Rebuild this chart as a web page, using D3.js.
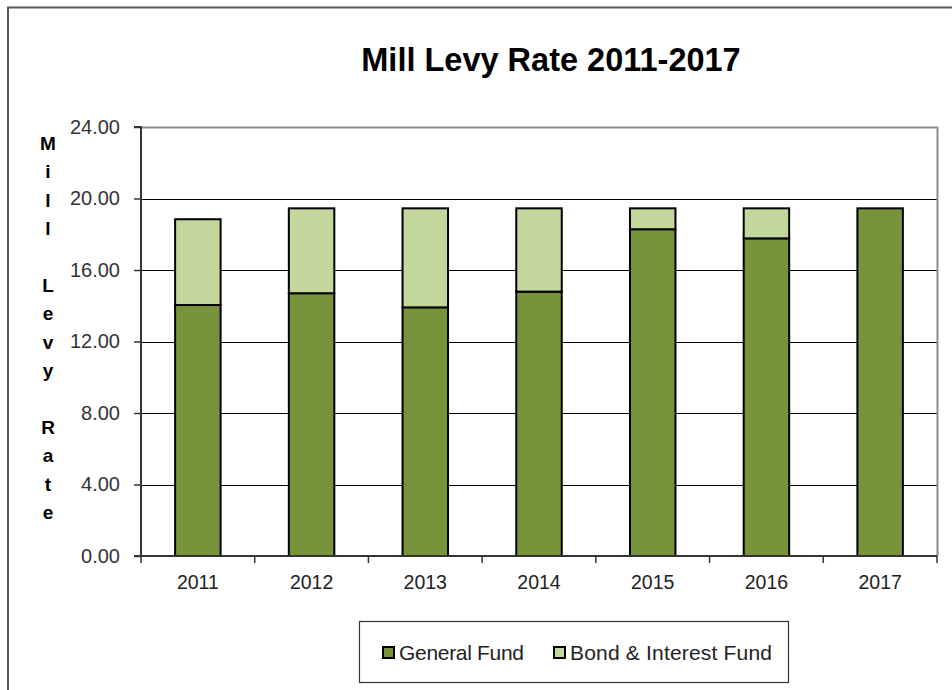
<!DOCTYPE html>
<html>
<head>
<meta charset="utf-8">
<script src="https://cdn.jsdelivr.net/npm/d3@7"></script>
<style>
  html, body { margin: 0; padding: 0; background: #fff; }
  svg { display: block; font-family: "Liberation Sans", Arial, sans-serif; }
</style>
</head>
<body>
<svg id="chart" width="952" height="690"></svg>
<script>
// Mill levy by fiscal year, split into the two funds
const years = ["2011", "2012", "2013", "2014", "2015", "2016", "2017"];
const generalFund = [14.04, 14.70, 13.91, 14.79, 18.28, 17.77, 19.45];
const bondInterestFund = [4.80, 4.75, 5.54, 4.66, 1.17, 1.68, 0.00];
const seriesNames = ["General Fund", "Bond & Interest Fund"];
const seriesColors = ["#77933C", "#C3D69B"];
const yTicks = [0, 4, 8, 12, 16, 20, 24];
const axisTitle = ["M", "i", "l", "l", "", "L", "e", "v", "y", "", "R", "a", "t", "e"];

const svg = d3.select("#chart");
const margin = { left: 141, right: 937, top: 127, bottom: 556 };

// outer chart frame
svg.append("rect")
  .attr("x", 8).attr("y", 7.5)
  .attr("width", 1000).attr("height", 1000)
  .attr("fill", "none").attr("stroke", "#595959").attr("stroke-width", 2);

// title
svg.append("text")
  .attr("x", 551).attr("y", 71)
  .attr("text-anchor", "middle")
  .attr("font-size", 32.5).attr("font-weight", "bold")
  .attr("fill", "#000")
  .text("Mill Levy Rate 2011-2017");

const x = d3.scaleBand().domain(years)
  .range([margin.left, margin.right]).paddingInner(0.6).paddingOuter(0.3);
const band = d3.scaleBand().domain(years).range([margin.left, margin.right]);
const y = d3.scaleLinear().domain([0, 24]).range([margin.bottom, margin.top]);

// gridlines
svg.append("g").selectAll("line").data(yTicks.filter(t => t > 0))
  .join("line")
  .attr("x1", margin.left).attr("x2", margin.right)
  .attr("y1", d => Math.round(y(d)) + 0.5).attr("y2", d => Math.round(y(d)) + 0.5)
  .attr("stroke", "#000").attr("stroke-width", 1);

// plot area frame (top and right)
svg.append("path")
  .attr("d", `M${margin.left},${margin.top + 0.5}H${margin.right + 0.5}V${margin.bottom}`)
  .attr("fill", "none").attr("stroke", "#8c8c8c").attr("stroke-width", 2);

// stacked bars
const rows = years.map((yr, i) => ({ year: yr, "General Fund": generalFund[i], "Bond & Interest Fund": bondInterestFund[i] }));
const stacked = d3.stack().keys(seriesNames)(rows);

svg.append("g").selectAll("g").data(stacked).join("g")
  .attr("fill", (d, i) => seriesColors[i])
  .selectAll("rect").data(d => d.filter(p => p[1] - p[0] > 0))
  .join("rect")
  .attr("x", d => x(d.data.year))
  .attr("width", x.bandwidth())
  .attr("y", d => y(d[1]))
  .attr("height", d => y(d[0]) - y(d[1]))
  .attr("stroke", "#000").attr("stroke-width", 2);

// y axis
const yAxis = d3.axisLeft(y).tickValues(yTicks).tickFormat(d3.format(".2f")).tickSize(7).tickPadding(14);
const gy = svg.append("g").attr("transform", `translate(${margin.left},0)`).call(yAxis);
gy.select(".domain").attr("stroke", "#333").attr("stroke-width", 2).attr("d", `M-7,${margin.top}H0V${margin.bottom}H-7`);
gy.selectAll(".tick line").attr("stroke", "#333").attr("stroke-width", 1.5);
gy.selectAll(".tick text").attr("font-size", 20).attr("fill", "#333")
  .attr("font-family", "'Liberation Sans', Arial, sans-serif");

// x axis
const gx = svg.append("g").attr("transform", `translate(0,${margin.bottom})`);
gx.append("line").attr("x1", margin.left - 7).attr("x2", margin.right)
  .attr("stroke", "#333").attr("stroke-width", 2);
gx.selectAll("line.tk").data(years.concat(["end"]))
  .join("line").attr("class", "tk")
  .attr("x1", (d, i) => i < years.length ? band(d) : margin.right)
  .attr("x2", (d, i) => i < years.length ? band(d) : margin.right)
  .attr("y1", 0).attr("y2", 7)
  .attr("stroke", "#333").attr("stroke-width", 1.5);
gx.selectAll("text").data(years).join("text")
  .attr("x", d => band(d) + band.bandwidth() / 2)
  .attr("y", 33)
  .attr("text-anchor", "middle")
  .attr("font-size", 19.5).attr("fill", "#222")
  .text(d => d);

// vertical axis title, one letter per line
svg.append("g").selectAll("text").data(axisTitle).join("text")
  .attr("x", 48).attr("y", (d, i) => 150 + i * 28.4)
  .attr("text-anchor", "middle")
  .attr("font-size", 19).attr("font-weight", "bold").attr("fill", "#000")
  .text(d => d);

// legend
const legend = svg.append("g");
legend.append("rect")
  .attr("x", 359.5).attr("y", 621.5).attr("width", 429).attr("height", 61)
  .attr("fill", "#fff").attr("stroke", "#333").attr("stroke-width", 1.2);
const legendX = [383, 554];
seriesNames.forEach((name, i) => {
  legend.append("rect")
    .attr("x", legendX[i]).attr("y", 647).attr("width", 11).attr("height", 11)
    .attr("fill", seriesColors[i]).attr("stroke", "#000").attr("stroke-width", 2);
  legend.append("text")
    .attr("x", legendX[i] + 16).attr("y", 660)
    .attr("font-size", 21).attr("fill", "#222")
    .attr("textLength", i === 0 ? 125 : 202)
    .text(name);
});
</script>
</body>
</html>
